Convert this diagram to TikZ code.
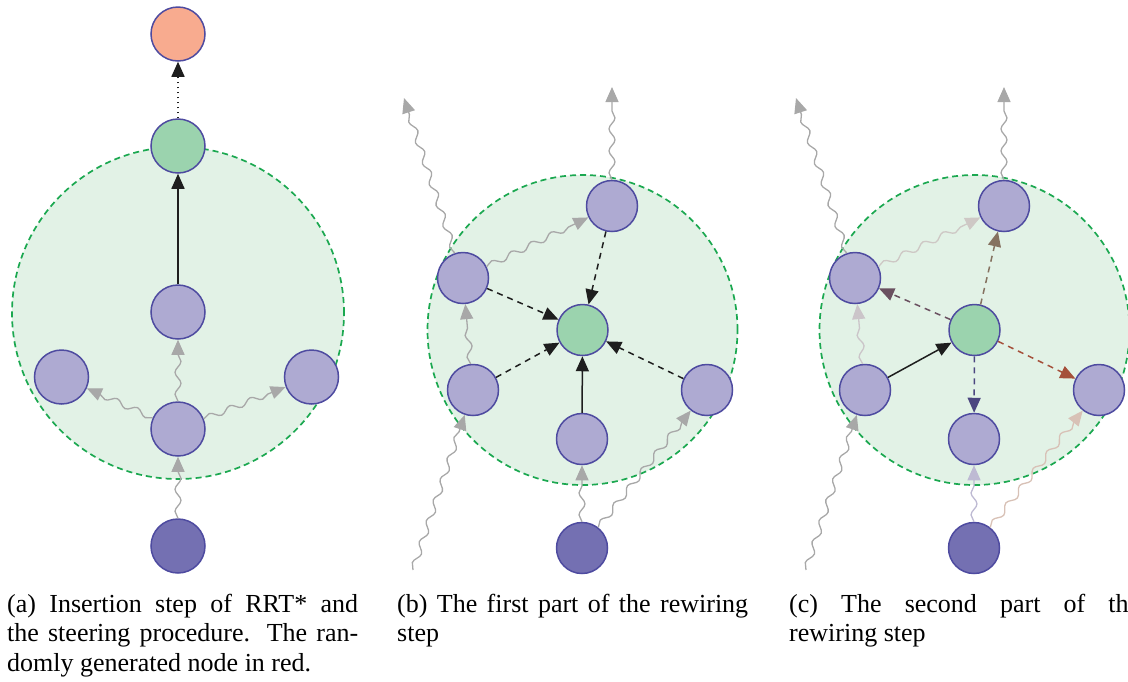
\documentclass[tikz,border=0pt]{standalone}
\usepackage{fontspec}
\setmainfont{Liberation Serif}
\usetikzlibrary{arrows.meta,decorations.pathmorphing}
\definecolor{nodefill}{HTML}{AEAAD2}
\definecolor{nodeedge}{HTML}{4E4BA0}
\definecolor{darkfill}{HTML}{7470B2}
\definecolor{greenfill}{HTML}{9BD3AE}
\definecolor{redfill}{HTML}{F8AB8F}
\definecolor{regionfill}{HTML}{E2F2E6}
\definecolor{regionedge}{HTML}{1BA850}
\definecolor{snakegray}{HTML}{A8A8A8}
\definecolor{inkblack}{HTML}{1E1E1E}
\definecolor{cA}{HTML}{6A5060}
\definecolor{cB}{HTML}{857260}
\definecolor{cC}{HTML}{A5503A}
\definecolor{cD}{HTML}{4B4580}
\definecolor{lA}{HTML}{CEC8C5}
\definecolor{lB}{HTML}{CBC5C9}
\definecolor{lC}{HTML}{BEBAD3}
\definecolor{lD}{HTML}{D8C1B6}
\tikzset{
  vtx/.style={circle, draw=nodeedge, line width=1.5pt, fill=nodefill, inner sep=0pt, minimum size=51pt},
  sizeA/.style={minimum size=54pt},
  darkv/.style={fill=darkfill},
  greenv/.style={fill=greenfill},
  redv/.style={fill=redfill},
  region/.style={circle, fill=regionfill, draw=regionedge, line width=1.7pt, dash pattern=on 6pt off 4pt, inner sep=0pt},
  arrtip/.style={-{Triangle[length=15pt,width=13pt]}},
  snk/.style={draw=snakegray, line width=1.3pt, arrtip, decorate, decoration={snake, amplitude=3pt, segment length=22pt, post length=14pt}},
  solidarr/.style={draw=inkblack, line width=1.5pt, arrtip},
  dasharr/.style={draw=inkblack, line width=1.5pt, dash pattern=on 6pt off 5pt, arrtip},
  dotarr/.style={draw=inkblack, line width=1.6pt, dash pattern=on 1.4pt off 3.6pt, arrtip},
  captext/.style={inner sep=0pt, anchor=base west, font=\fontsize{26pt}{29.5pt}\selectfont}
}
\begin{document}
\begin{tikzpicture}[x=1pt, y=-1pt]
\useasboundingbox (0,0) rectangle (1128,681);
% ---------------- panel (a)
\node[region, minimum size=332pt] (ra) at (178,313) {};
\node[vtx, sizeA, darkv] (a0) at (178,546) {};
\node[vtx, sizeA] (a1) at (178,429) {};
\node[vtx, sizeA] (a2) at (178,312) {};
\node[vtx, sizeA] (a3) at (61.5,377) {};
\node[vtx, sizeA] (a4) at (311.5,377) {};
\node[vtx, sizeA, greenv] (ag) at (178,146) {};
\node[vtx, sizeA, redv] (ar) at (178,34) {};
\draw[snk] (a0) -- (a1);
\draw[snk] (a1) -- (a2);
\draw[snk] (a1) -- (a3);
\draw[snk] (a1) -- (a4);
\draw[solidarr] (a2) -- (ag);
\draw[dotarr] (ag) -- (ar);
% ---------------- panel (b)
\node[region, minimum size=310pt] (rb) at (582.5,330) {};
\node[vtx, greenv] (bg) at (582.5,330) {};
\node[vtx] (btr) at (612,206) {};
\node[vtx] (blu) at (463,278) {};
\node[vtx] (bll) at (473,390) {};
\node[vtx] (bbc) at (582,439) {};
\node[vtx] (br) at (707,390) {};
\node[vtx, darkv] (bd) at (582,548) {};
\coordinate (bf1) at (404,98);
\coordinate (bf2) at (612,87);
\coordinate (bf3) at (413,570);
\draw[snk] (blu) -- (bf1);
\draw[snk] (btr) -- (bf2);
\draw[snk] (blu) -- (btr);
\draw[snk] (bll) -- (blu);
\draw[snk] (bf3) -- (bll);
\draw[snk] (bd) -- (bbc);
\draw[snk] (bd) -- (br);
\draw[dasharr] (btr) -- (bg);
\draw[dasharr] (blu) -- (bg);
\draw[dasharr] (bll) -- (bg);
\draw[dasharr] (br) -- (bg);
\draw[solidarr] (bbc) -- (bg);
% ---------------- panel (c)
\node[region, minimum size=310pt] (rc) at (974.5,330) {};
\node[vtx, greenv] (cg) at (974.5,330) {};
\node[vtx] (ctr) at (1004,206) {};
\node[vtx] (clu) at (855,278) {};
\node[vtx] (cll) at (865,390) {};
\node[vtx] (cbc) at (974,439) {};
\node[vtx] (cr) at (1099,390) {};
\node[vtx, darkv] (cd) at (974,548) {};
\coordinate (cf1) at (796,98);
\coordinate (cf2) at (1004,87);
\coordinate (cf3) at (806,570);
\draw[snk] (clu) -- (cf1);
\draw[snk] (ctr) -- (cf2);
\draw[snk, draw=lA] (clu) -- (ctr);
\draw[snk, draw=lB] (cll) -- (clu);
\draw[snk] (cf3) -- (cll);
\draw[snk, draw=lC] (cd) -- (cbc);
\draw[snk, draw=lD] (cd) -- (cr);
\draw[solidarr] (cll) -- (cg);
\draw[dasharr, draw=cA] (cg) -- (clu);
\draw[dasharr, draw=cB] (cg) -- (ctr);
\draw[dasharr, draw=cC] (cg) -- (cr);
\draw[dasharr, draw=cD] (cg) -- (cbc);
% ---------------- captions
\node[captext] (ca1) at (7,612) {\makebox[351pt][s]{(a) Insertion step of RRT* and}};
\node[captext] (ca2) at (7,641.5) {\makebox[351pt][s]{the steering procedure. The ran-}};
\node[captext] (ca3) at (7,671) {domly generated node in red.};
\node[captext] (cb1) at (397,612) {\makebox[351pt][s]{(b) The first part of the rewiring}};
\node[captext] (cb2) at (397,641.5) {step};
\node[captext] (cc1) at (789,612) {\makebox[351pt][s]{(c) The second part of the}};
\node[captext] (cc2) at (789,641.5) {rewiring step};
\end{tikzpicture}
\end{document}
